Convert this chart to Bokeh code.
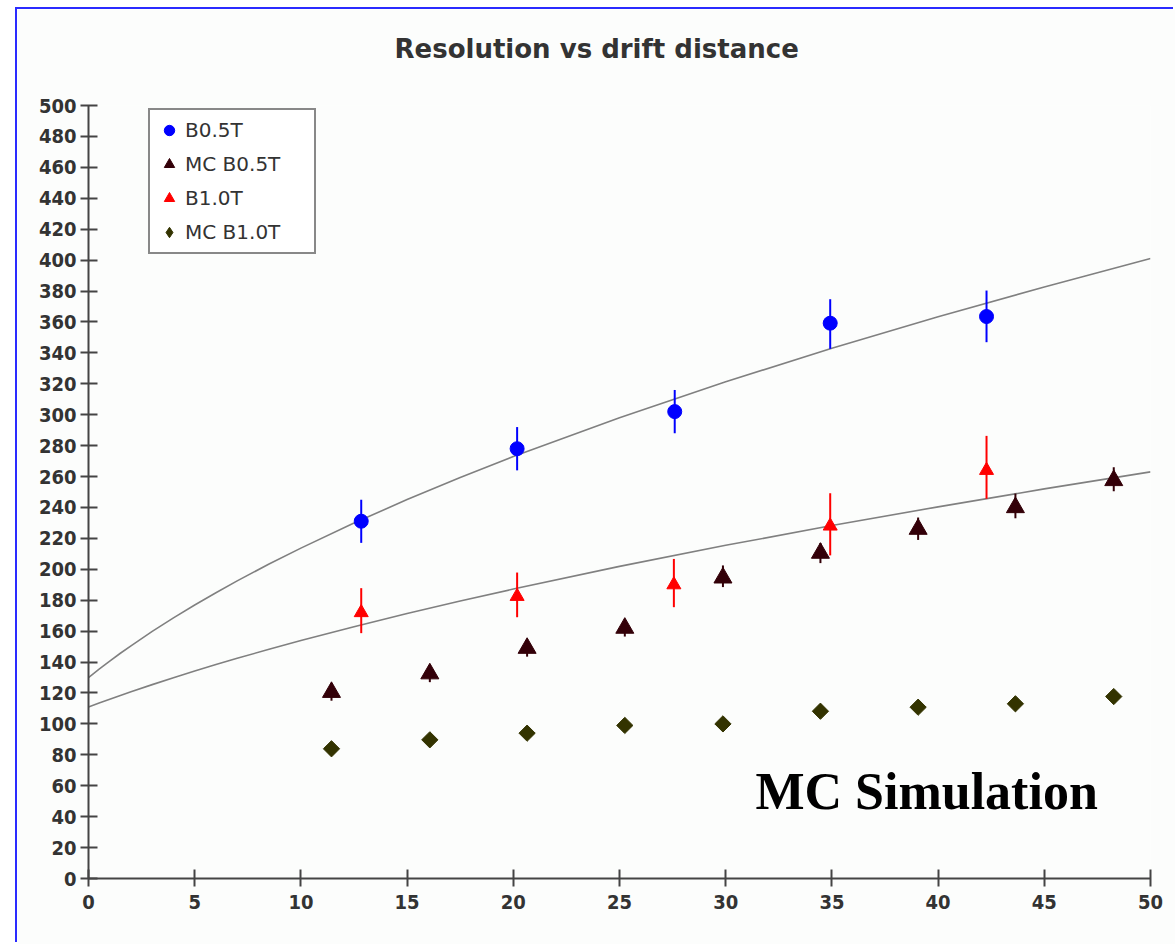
from bokeh.plotting import figure
from bokeh.models import FixedTicker, Legend, LegendItem, Label
from bokeh.embed import file_html
from bokeh.resources import INLINE

# --- measured data -------------------------------------------------------
# B = 0.5 T data (with errors)
b05_x = [12.84, 20.18, 27.6, 34.92, 42.28]
b05_y = [231.1, 278.0, 302.0, 359.2, 363.5]
b05_lo = [217.1, 264.0, 288.0, 342.6, 346.9]
b05_hi = [245.0, 292.0, 316.0, 374.7, 380.3]

# B = 1.0 T data (with errors)
b10_x = [12.84, 20.18, 27.56, 34.92, 42.28]
b10_y = [172.0, 182.5, 190.0, 228.0, 264.0]
b10_lo = [158.7, 169.0, 175.5, 209.0, 245.6]
b10_hi = [187.8, 197.9, 206.7, 249.2, 286.3]

# Monte Carlo, B = 0.5 T
mc05_x = [11.44, 16.07, 20.65, 25.25, 29.87, 34.46, 39.06, 43.64, 48.27]
mc05_y = [120.5, 132.5, 149.0, 162.0, 194.5, 210.5, 226.0, 240.0, 257.5]
mc05_lo = [115.0, 127.0, 143.5, 156.5, 188.5, 204.0, 219.0, 233.0, 250.5]
mc05_hi = [126.0, 138.0, 154.5, 167.5, 202.5, 217.0, 233.5, 249.0, 266.0]

# Monte Carlo, B = 1.0 T
mc10_x = [11.44, 16.07, 20.65, 25.25, 29.87, 34.46, 39.06, 43.64, 48.27]
mc10_y = [83.9, 89.7, 94.0, 99.0, 100.0, 108.2, 110.8, 113.0, 117.7]

# fitted resolution curves, sampled along the drift distance
fit_x = [0, 0.5, 1, 1.5, 2, 3, 4, 5, 6, 7, 8.5, 10, 12.5, 15, 17.5, 20,
         25, 30, 35, 40, 45, 50]
fit05_y = [130.0, 135.4, 140.6, 145.7, 150.5, 159.8, 168.6, 176.9, 184.8,
           192.5, 203.4, 213.7, 229.9, 245.1, 259.4, 272.9, 298.1, 321.3,
           343.0, 363.3, 382.6, 401.0]
fit10_y = [111.0, 113.5, 116.0, 118.4, 120.8, 125.4, 129.9, 134.2, 138.4,
           142.4, 148.3, 153.9, 162.9, 171.4, 179.5, 187.2, 201.9, 215.5,
           228.3, 240.4, 252.0, 263.0]

x_ticks = [0, 5, 10, 15, 20, 25, 30, 35, 40, 45, 50]
y_ticks = list(range(0, 501, 20))

# --- figure ---------------------------------------------------------------
BG = "#fcfdfc"
p = figure(width=1158, height=935, output_backend="svg", toolbar_location=None,
           x_range=(0, 50), y_range=(0, 500),
           min_border_left=71, min_border_right=25,
           min_border_top=96, min_border_bottom=66,
           background_fill_color=BG, border_fill_color=BG,
           title="Resolution vs drift distance\n",
           margin=(9, 0, 0, 17),
           styles={"box-shadow": "-2px -2px 0px 0px #2b2bff"})
p.outline_line_color = None
p.xgrid.grid_line_color = None
p.ygrid.grid_line_color = None

p.title.align = "left"
p.title.offset = 306
p.title.standoff = 24
p.title.text_font = "DejaVu Sans"
p.title.text_font_style = "bold"
p.title.text_font_size = "26px"
p.title.text_color = "#333333"

for ax, ticks in ((p.xaxis[0], x_ticks), (p.yaxis[0], y_ticks)):
    ax.ticker = FixedTicker(ticks=ticks)
    ax.axis_line_color = "#444444"
    ax.axis_line_width = 2
    ax.major_tick_line_color = "#444444"
    ax.major_tick_line_width = 2
    ax.major_tick_in = 9
    ax.major_tick_out = 8
    ax.minor_tick_line_color = None
    ax.major_label_text_font = "DejaVu Sans Condensed"
    ax.major_label_text_font_style = "bold"
    ax.major_label_text_font_size = "20px"
    ax.major_label_text_color = "#333333"
p.yaxis[0].major_label_standoff = 4
p.xaxis[0].major_label_standoff = 8

# fit curves
p.line(fit_x, fit05_y, line_color="#808080", line_width=1.6)
p.line(fit_x, fit10_y, line_color="#808080", line_width=1.6)

# error bars
p.segment(x0=b05_x, y0=b05_lo, x1=b05_x, y1=b05_hi, line_color="#0000ff", line_width=2)
p.segment(x0=b10_x, y0=b10_lo, x1=b10_x, y1=b10_hi, line_color="#ff0000", line_width=2)
p.segment(x0=mc05_x, y0=mc05_lo, x1=mc05_x, y1=mc05_hi, line_color="#330008", line_width=2)

# markers
r_b05 = p.scatter(b05_x, b05_y, marker="circle", size=14,
                  fill_color="#0000ff", line_color="#0000ff")
r_mc05 = p.scatter(mc05_x, mc05_y, marker="triangle", size=18,
                   fill_color="#330008", line_color="#330008")
r_b10 = p.scatter(b10_x, b10_y, marker="triangle", size=14,
                  fill_color="#ff0000", line_color="#ff0000")
r_mc10 = p.scatter(mc10_x, mc10_y, marker="square", size=11.5, angle=0.785398,
                   fill_color="#333300", line_color="#333300")
# diamond-shaped key for the MC B1.0T entry
r_mc10_key = p.scatter(mc10_x, mc10_y, marker="diamond", size=14,
                       fill_color="#333300", line_color="#333300", visible=False)

legend = Legend(items=[LegendItem(label="B0.5T", renderers=[r_b05]),
                       LegendItem(label="MC B0.5T", renderers=[r_mc05]),
                       LegendItem(label="B1.0T", renderers=[r_b10]),
                       LegendItem(label="MC B1.0T", renderers=[r_mc10_key])],
                location=(60, 624), orientation="vertical")
legend.background_fill_color = "white"
legend.background_fill_alpha = 1.0
legend.border_line_color = "#111111"
legend.border_line_width = 2
legend.padding = 6
legend.spacing = 6
legend.margin = 0
legend.glyph_width = 26
legend.glyph_height = 28
legend.label_height = 28
legend.label_width = 123
legend.label_standoff = 3
legend.label_text_font = "DejaVu Sans"
legend.label_text_font_size = "20px"
legend.label_text_color = "#333333"
p.add_layout(legend, "center")

p.add_layout(Label(x=31.4, y=56, text="MC Simulation", text_font="Liberation Serif",
                   text_font_style="bold", text_font_size="52px", text_color="black",
                   text_baseline="alphabetic"))

open("out.html", "w").write(file_html(p, INLINE))
